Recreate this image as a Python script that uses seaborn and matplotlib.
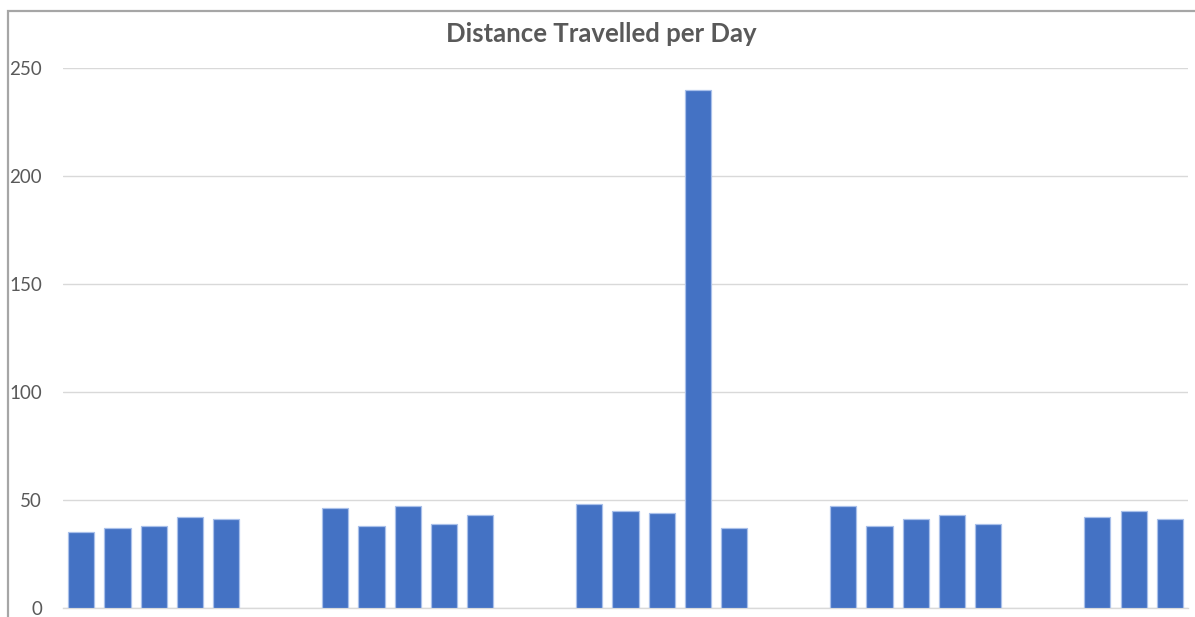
import matplotlib
matplotlib.use("Agg")
import matplotlib.pyplot as plt
from matplotlib.patches import Rectangle
import numpy as np
import pandas as pd
import seaborn as sns

# Daily distance for one month; weekends have no entry
days = [str(d) for d in range(1, 32)]
distance = [35, 37, 38, 42, 41, None, None,
            46, 38, 47, 39, 43, None, None,
            48, 45, 44, 240, 37, None, None,
            47, 38, 41, 43, 39, None, None,
            42, 45, 41]
y_ticks = [0, 50, 100, 150, 200, 250]

df = pd.DataFrame({"day": days,
                   "distance": [np.nan if v is None else v for v in distance]})

sns.set_theme(style="white")
plt.rcParams["font.family"] = ["Lato", "DejaVu Sans"]

fig = plt.figure(figsize=(11.95, 6.17), dpi=100)
ax = fig.add_axes([63 / 1195, 9.3 / 617, 1125 / 1195, 539.7 / 617])

sns.barplot(data=df, x="day", y="distance", order=days, color="#4472C4",
            saturation=1, width=0.72, edgecolor="#A9C0EA", linewidth=0.9,
            ax=ax, zorder=3)

ax.set_ylim(0, 250)
ax.set_xlim(-0.5, len(days) - 0.5)
ax.set_yticks(y_ticks)
ax.set_yticklabels([str(t) for t in y_ticks])
ax.yaxis.grid(True, color="#D9D9D9", linewidth=1.0, zorder=0)
ax.set_axisbelow(True)
for side in ["top", "right", "left"]:
    ax.spines[side].set_visible(False)
ax.spines["bottom"].set_color("#D9D9D9")
ax.spines["bottom"].set_linewidth(1.0)
ax.set_xticks([])
ax.set_xlabel("")
ax.set_ylabel("")
ax.tick_params(axis="y", length=0, pad=15, labelsize=13.5, labelcolor="#595959")

fig.text(0.503, 1 - 33.5 / 617, "Distance Travelled per Day", ha="center",
         va="center", fontsize=18.5, fontweight="bold", color="#595959")

# Chart-area border
fig.add_artist(Rectangle((8 / 1195, -0.1), 1.2, 1 - 11 / 617 + 0.1,
                         transform=fig.transFigure, fill=False,
                         edgecolor="#A6A6A6", linewidth=1.6, zorder=10))

fig.savefig("out.png", dpi=100)
